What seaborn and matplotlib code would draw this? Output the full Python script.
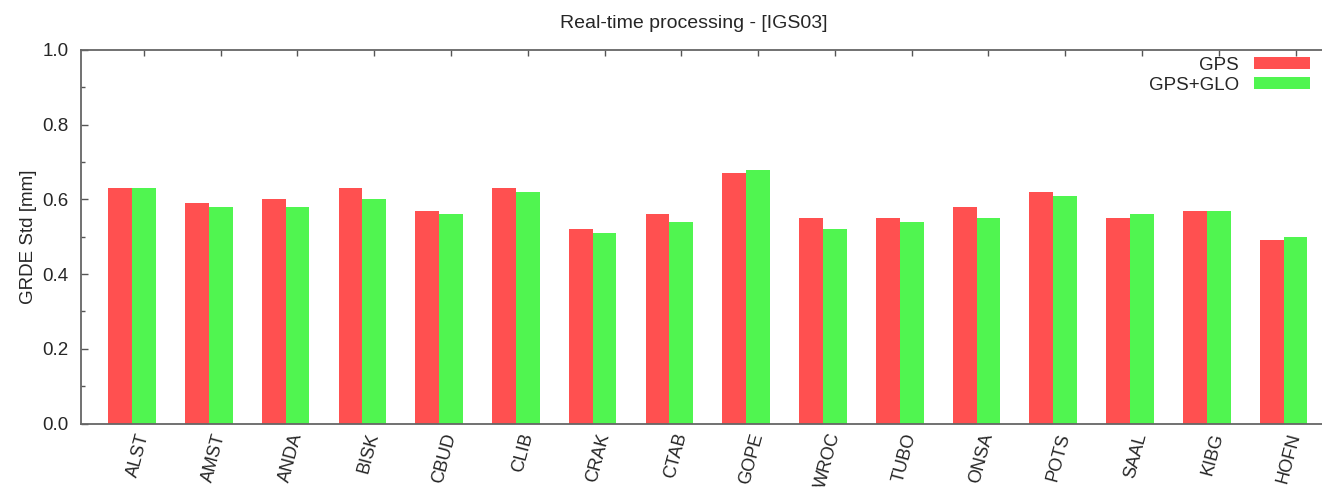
import matplotlib
matplotlib.use("Agg")
import matplotlib.pyplot as plt
import seaborn as sns
import pandas as pd
import numpy as np
from matplotlib.ticker import MultipleLocator

stations = ["ALST", "AMST", "ANDA", "BISK", "CBUD", "CLIB", "CRAK", "CTAB",
            "GOPE", "WROC", "TUBO", "ONSA", "POTS", "SAAL", "KIBG", "HOFN"]
gps = [0.63, 0.59, 0.60, 0.63, 0.57, 0.63, 0.52, 0.56,
       0.67, 0.55, 0.55, 0.58, 0.62, 0.55, 0.57, 0.49]
gps_glo = [0.63, 0.58, 0.58, 0.60, 0.56, 0.62, 0.51, 0.54,
           0.68, 0.52, 0.54, 0.55, 0.61, 0.56, 0.57, 0.50]
series_names = ["GPS", "GPS+GLO"]
colors = ["#FF5050", "#50F550"]
title = "Real-time processing - [IGS03]"
ylabel = "GRDE Std [mm]"

sns.set_theme(style="white")
plt.rcParams["font.family"] = ["Liberation Sans", "DejaVu Sans"]

df = pd.DataFrame({
    "station": stations * 2,
    "value": gps + gps_glo,
    "system": [series_names[0]] * len(stations) + [series_names[1]] * len(stations),
})

fig = plt.figure(figsize=(13.22, 4.88), dpi=100)
ax = fig.add_axes([81 / 1322, (488 - 423.5) / 488, 1 - 81 / 1322, (423.5 - 50) / 488])

sns.barplot(data=df, x="station", y="value", hue="system", order=stations,
            hue_order=series_names, palette=colors, width=0.62, gap=0,
            saturation=1, linewidth=0, ax=ax)

ax.set_ylim(0, 1.0)
ax.set_xlim(-0.664, 15.5)
ax.yaxis.set_major_locator(MultipleLocator(0.2))
ax.yaxis.set_minor_locator(MultipleLocator(0.1))
ax.set_yticklabels([f"{v:.1f}" for v in ax.get_yticks()])

pos = np.arange(len(stations)) + 0.155
ax.set_xticks(pos)
ax.set_xticklabels(stations, rotation=75, ha="right", va="center",
                   rotation_mode="anchor", fontsize=13)
ax.tick_params(axis="x", which="both", bottom=False, top=True, direction="in",
               length=4, width=1, color="#555555", pad=7, labelsize=13)
ax.tick_params(axis="y", which="major", left=True, direction="in", length=5,
               width=1, color="#555555", pad=9, labelsize=13.5)
ax.tick_params(axis="y", which="minor", left=True, direction="in", length=3,
               width=1, color="#555555")

for side in ["left", "top", "bottom"]:
    ax.spines[side].set_visible(True)
    ax.spines[side].set_color("#666666")
    ax.spines[side].set_linewidth(1.3)
ax.spines["right"].set_visible(False)

ax.set_xlabel("")
ax.set_ylabel(ylabel, fontsize=13.5, labelpad=4)
fig.text(694 / 1322, 1 - 23 / 488, title, ha="center", va="center", fontsize=14)

handles, labels = ax.get_legend_handles_labels()
if ax.get_legend() is not None:
    ax.get_legend().remove()
fig.legend(handles, labels, loc="upper right",
           bbox_to_anchor=(1310 / 1322, 1 - 57 / 488),
           bbox_transform=fig.transFigure, frameon=False, markerfirst=False,
           fontsize=13.5, handlelength=3.0, handleheight=0.6,
           handletextpad=0.8, labelspacing=0.15, borderpad=0, borderaxespad=0)

fig.savefig("out.png", dpi=100)
